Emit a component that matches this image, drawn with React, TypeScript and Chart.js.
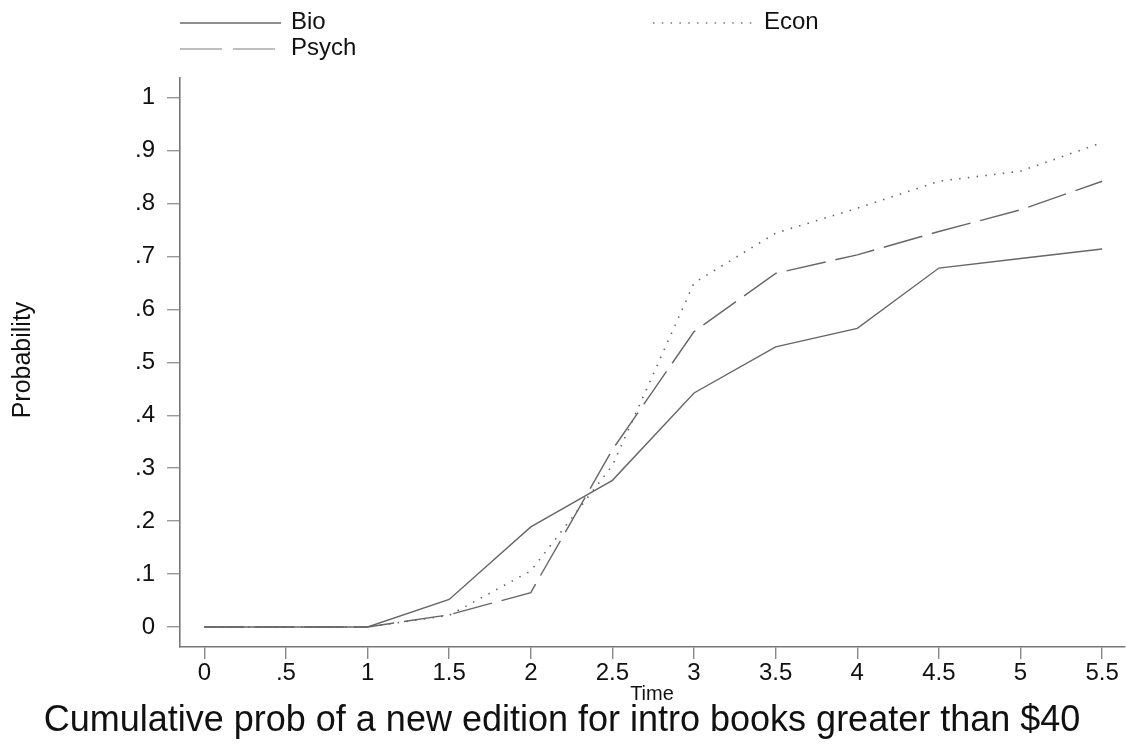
import React, { useEffect, useRef } from "react";
import { Chart, registerables } from "chart.js";

Chart.register(...registerables);

const times = [0, 0.5, 1, 1.5, 2, 2.5, 3, 3.5, 4, 4.5, 5, 5.5];
const bio = [0, 0, 0, 0.052, 0.189, 0.277, 0.442, 0.529, 0.564, 0.678, 0.696, 0.714];
const econ = [0, 0, 0, 0.022, 0.106, 0.305, 0.65, 0.744, 0.791, 0.842, 0.861, 0.915];
const psych = [0, 0, 0, 0.023, 0.065, 0.335, 0.558, 0.668, 0.703, 0.747, 0.788, 0.842];
const yTicks = [0, 0.1, 0.2, 0.3, 0.4, 0.5, 0.6, 0.7, 0.8, 0.9, 1];

const FONT = "'Liberation Sans', Arial, Helvetica, sans-serif";

function fmt(v: number): string {
  const r = Math.round(v * 10) / 10;
  if (r === 0) return "0";
  if (Number.isInteger(r)) return String(r);
  const s = r.toFixed(1);
  return s.startsWith("0") ? s.slice(1) : s;
}

const textPlugin = {
  id: "texts",
  afterDraw(chart: any) {
    const ctx = chart.ctx;
    ctx.save();
    ctx.fillStyle = "#111";
    ctx.textBaseline = "middle";
    // y title
    ctx.save();
    ctx.translate(23, 360);
    ctx.rotate(-Math.PI / 2);
    ctx.textAlign = "center";
    ctx.font = `25px ${FONT}`;
    ctx.fillText("Probability", 0, 0);
    ctx.restore();
    // x title
    ctx.textAlign = "center";
    ctx.font = `20px ${FONT}`;
    ctx.fillText("Time", 652, 694);
    // main title
    ctx.font = `36px ${FONT}`;
    ctx.fillText("Cumulative prob of a new edition for intro books greater than $40", 562, 721);
    // legend
    const items = [
      { label: "Bio", x: 180, y: 23, color: "#6a6a6a", dash: [] as number[], w: 1.6 },
      { label: "Econ", x: 653, y: 23, color: "#777", dash: [1.5, 7.3], w: 1.6 },
      { label: "Psych", x: 180, y: 49, color: "#aaa", dash: [42, 11], w: 1.6 },
    ];
    ctx.font = `24px ${FONT}`;
    ctx.textAlign = "left";
    for (const it of items) {
      ctx.beginPath();
      ctx.strokeStyle = it.color;
      ctx.lineWidth = it.w;
      ctx.setLineDash(it.dash);
      ctx.moveTo(it.x, it.y);
      ctx.lineTo(it.x + 101, it.y);
      ctx.stroke();
      ctx.setLineDash([]);
      ctx.fillText(it.label, it.x + 111, it.y - 1);
    }
    ctx.restore();
  },
};

export default function App() {
  const ref = useRef<HTMLCanvasElement | null>(null);
  useEffect(() => {
    if (!ref.current) return;
    const mk = (arr: number[]) => times.map((t, i) => ({ x: t, y: arr[i] }));
    const chart = new Chart(ref.current, {
      type: "line",
      data: {
        datasets: [
          { label: "Bio", data: mk(bio), borderColor: "#666", borderWidth: 1.4, pointRadius: 0, tension: 0 },
          { label: "Econ", data: mk(econ), borderColor: "#666", borderWidth: 1.6, borderDash: [1.5, 7.3], pointRadius: 0, tension: 0 },
          { label: "Psych", data: mk(psych), borderColor: "#666", borderWidth: 1.4, borderDash: [40, 10], pointRadius: 0, tension: 0 },
        ],
      },
      options: {
        animation: false,
        responsive: false,
        maintainAspectRatio: false,
        layout: { padding: { top: 78, right: 2, left: 0, bottom: 0 } },
        plugins: { legend: { display: false }, title: { display: false }, tooltip: { enabled: false } },
        scales: {
          x: {
            type: "linear",
            min: -0.149,
            max: 5.64,
            afterBuildTicks: (s: any) => {
              s.ticks = times.map((v) => ({ value: v }));
            },
            afterFit: (s: any) => {
              s.height = 102;
            },
            ticks: {
              autoSkip: false,
              maxRotation: 0,
              padding: 0,
              color: "#111",
              font: { family: FONT, size: 24 },
              callback: (v: any) => fmt(Number(v)),
            },
            grid: { drawOnChartArea: false, drawTicks: true, tickLength: 12, color: "#888", lineWidth: 1.4 },
            border: { display: true, color: "#777", width: 1.6 },
          },
          y: {
            type: "linear",
            min: -0.0378,
            max: 1.037,
            afterBuildTicks: (s: any) => {
              s.ticks = yTicks.map((v) => ({ value: v }));
            },
            afterFit: (s: any) => {
              s.width = 180;
            },
            ticks: {
              autoSkip: false,
              padding: 12,
              color: "#111",
              font: { family: FONT, size: 24 },
              callback: (v: any) => fmt(Number(v)),
            },
            grid: { drawOnChartArea: false, drawTicks: true, tickLength: 13, color: "#999", lineWidth: 1.4 },
            border: { display: true, color: "#777", width: 1.6 },
          },
        },
      },
      plugins: [textPlugin],
    });
    return () => chart.destroy();
  }, []);
  return (
    <canvas
      ref={ref}
      width={1127}
      height={749}
      style={{ position: "absolute", left: 0, top: 0, width: 1127, height: 749, background: "#fff" }}
    />
  );
}
